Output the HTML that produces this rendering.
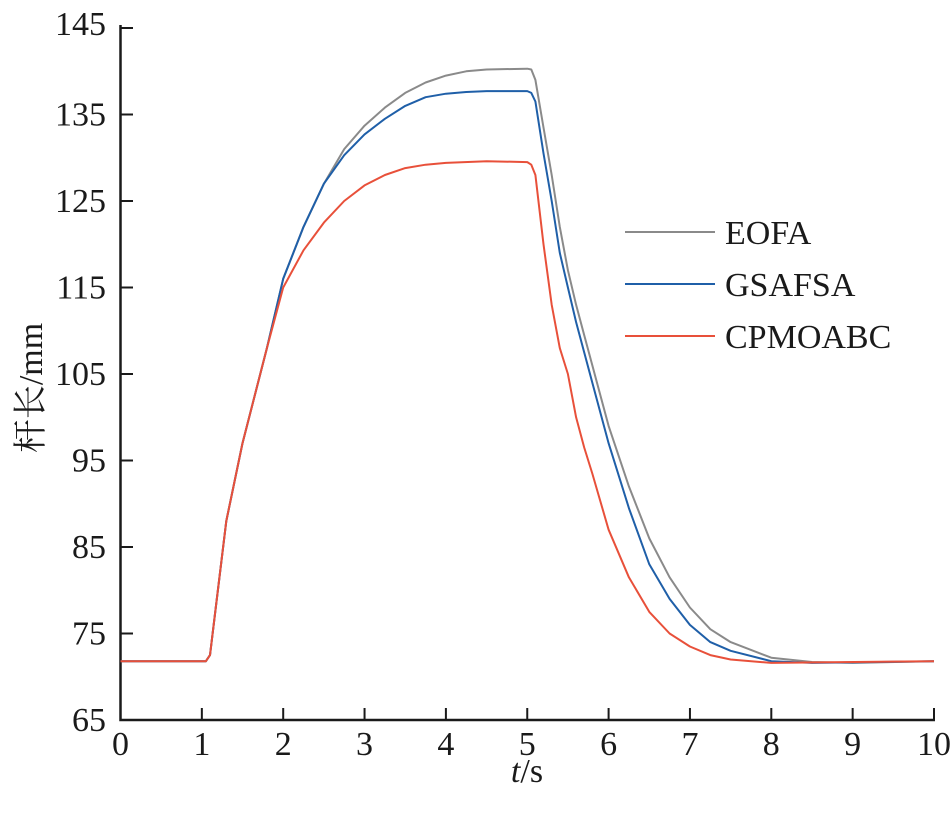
<!DOCTYPE html>
<html><head><meta charset="utf-8"><style>
body{margin:0;background:#fff}
svg text{font-family:"Liberation Serif","Noto Serif CJK SC",serif;fill:#1a1a1a}
</style></head><body>
<svg width="951" height="814" id="c">
<g id="axes"></g><g id="series"></g><g id="legend"></g>
</svg>
<script>
const tEOFA=[0,1.05,1.1,1.3,1.5,1.8,2,2.25,2.5,2.75,3,3.25,3.5,3.75,4,4.25,4.5,5,5.05,5.1,5.2,5.3,5.4,5.5,5.6,5.7,5.8,6,6.25,6.5,6.75,7,7.25,7.5,8,8.5,9,10];
const vEOFA=[71.8,71.8,72.5,88,97,108,116,122,127,131,133.7,135.8,137.5,138.7,139.5,140,140.2,140.3,140.2,139,133.5,128,122,117,113,109.5,106,99,92,86,81.5,78,75.5,74,72.2,71.7,71.6,71.8];
const tGSAFSA=[0,1.05,1.1,1.3,1.5,1.8,2,2.25,2.5,2.75,3,3.25,3.5,3.75,4,4.25,4.5,5,5.05,5.1,5.2,5.3,5.4,5.5,5.6,5.7,5.8,6,6.25,6.5,6.75,7,7.25,7.5,8,8.5,10];
const vGSAFSA=[71.8,71.8,72.5,88,97,108,116,122,127,130.3,132.7,134.5,136,137,137.4,137.6,137.7,137.7,137.5,136.5,130.5,125,119,115,111,107.5,104,97,89.5,83,79,76,74,73,71.8,71.6,71.8];
const tCPMOABC=[0,1.05,1.1,1.3,1.5,1.8,2,2.25,2.5,2.75,3,3.25,3.5,3.75,4,4.5,5,5.05,5.1,5.2,5.3,5.4,5.5,5.6,5.7,5.8,6,6.25,6.5,6.75,7,7.25,7.5,8,10];
const vCPMOABC=[71.8,71.8,72.5,88,97,108,115,119.3,122.5,125,126.8,128,128.8,129.2,129.4,129.6,129.5,129.2,128,120,113,108,105,100,96.5,93.5,87,81.5,77.5,75,73.5,72.5,72,71.6,71.8];
const xTicks=[0,1,2,3,4,5,6,7,8,9,10];
const yTicks=[65,75,85,95,105,115,125,135,145];
const names=["EOFA","GSAFSA","CPMOABC"];
const colors=["#8a8a8a","#1f5fa8","#e8503a"];
const NS="http://www.w3.org/2000/svg";
const X=t=>120.5+t*81.35, Y=v=>720-(v-65)*8.65;
function mk(tag,attrs,parent,txt){const e=document.createElementNS(NS,tag);for(const k in attrs)e.setAttribute(k,attrs[k]);if(txt!=null)e.textContent=txt;parent.appendChild(e);return e;}
const ax=document.getElementById('axes');
let e=mk('path',{d:`M120.5 25V720H935`,fill:'none',stroke:'#1a1a1a','stroke-width':2.5},ax);

xTicks.forEach(t=>{
 let l=mk('line',{x1:X(t),x2:X(t),y1:720,y2:708,stroke:'#1a1a1a','stroke-width':2},ax);
 
 let s=mk('text',{x:X(t),y:755,'font-size':34,'text-anchor':'middle'},ax,t);
 
});
yTicks.forEach(v=>{
 let l=mk('line',{x1:120.5,x2:133,y1:Y(v),y2:Y(v),stroke:'#1a1a1a','stroke-width':2},ax);
 
 let s=mk('text',{x:106,y:Y(v)+11-(v==145?4:0),'font-size':34,'text-anchor':'end'},ax,v);
 
});
let xt=mk('text',{x:527,y:782,'font-size':34,'text-anchor':'middle'},ax);

mk('tspan',{'font-style':'italic'},xt,'t');mk('tspan',{},xt,'/s');
let yt=mk('text',{x:0,y:0,'font-size':34,'text-anchor':'middle',transform:'translate(42,388) rotate(-90)'},ax,'杆长/mm');

const sg=document.getElementById('series'),lg=document.getElementById('legend');
[[tEOFA,vEOFA],[tGSAFSA,vGSAFSA],[tCPMOABC,vCPMOABC]].forEach((d,i)=>{
 const pts=d[0].map((t,j)=>X(t).toFixed(1)+','+Y(d[1][j]).toFixed(1)).join(' ');
 let p=mk('polyline',{points:pts,fill:'none',stroke:colors[i],'stroke-width':2,'stroke-linejoin':'round'},sg);
 
 const ly=232+i*52;
 let l=mk('line',{x1:625,x2:715,y1:ly,y2:ly,stroke:colors[i],'stroke-width':2},lg);
 
 let s=mk('text',{x:725,y:ly+12,'font-size':34},lg,names[i]);
 
});
</script>
</body></html>
